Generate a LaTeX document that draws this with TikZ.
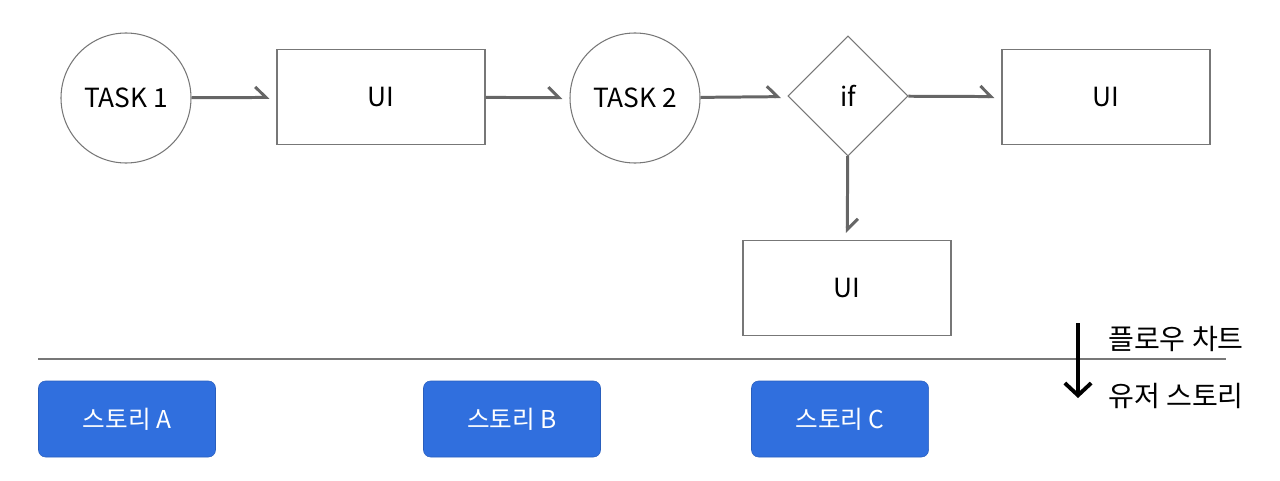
\documentclass[tikz,border=0pt]{standalone}
\usepackage{fontspec}
\setmainfont{Noto Sans CJK KR}
\usetikzlibrary{arrows.meta,shapes.geometric}
\definecolor{linegray}{HTML}{666666}
\definecolor{boxgray}{HTML}{777777}
\definecolor{storyblue}{HTML}{306FDE}
\tikzset{
  task/.style={circle,draw=boxgray,line width=0.6pt,minimum size=130*0.02cm,inner sep=0pt},
  uibox/.style={rectangle,draw=boxgray,line width=0.6pt,minimum width=208*0.02cm,minimum height=95*0.02cm},
  cond/.style={diamond,draw=boxgray,line width=0.6pt,minimum width=120*0.02cm,minimum height=120*0.02cm,inner sep=0pt},
  story/.style={rectangle,rounded corners=4pt,fill=storyblue,draw=storyblue!85!black,line width=0.3pt,
    text=white,minimum width=177*0.02cm,minimum height=76*0.02cm,font=\fontsize{14}{17}\selectfont},
  flow/.style={draw=linegray,line width=1.7pt,-{Straight Barb[harpoon,length=6pt,width=12pt]},shorten >=7*0.02cm},
}
\begin{document}
\begin{tikzpicture}[x=0.02cm,y=-0.02cm,font=\fontsize{15}{18}\selectfont]
  \useasboundingbox (0,0) rectangle (1280,480);

  \node[task] (t1) at (126,98) {TASK 1};
  \node[uibox] (ui1) at (381,97) {UI};
  \node[task] (t2) at (635,98) {TASK 2};
  \node[cond] (if) at (848,96) {if};
  \node[uibox] (ui2) at (1106,97) {UI};
  \node[uibox] (ui3) at (847,288) {UI};

  \draw[flow] (t1) -- (ui1);
  \draw[flow] (ui1) -- (t2);
  \draw[flow] (t2) -- (if);
  \draw[flow] (if) -- (ui2);
  \draw[flow] (if) -- (ui3);

  % divider between the two views
  \coordinate (lineL) at (38,359);
  \coordinate (lineR) at (1226,359);
  \draw[boxgray,line width=0.6pt] (lineL) -- (lineR);

  \coordinate (downA) at (1078,323);
  \coordinate (downB) at (1078,398);
  \draw[line width=2.2pt,-{Straight Barb[length=7pt,width=15pt]}] (downA) -- (downB);
  \node[anchor=west,font=\fontsize{16}{19}\selectfont] (flowlbl) at (1102,339) {플로우 차트};
  \node[anchor=west,font=\fontsize{16}{19}\selectfont] (storylbl) at (1102,396) {유저 스토리};

  \node[story] (sa) at (127,419) {스토리 A};
  \node[story] (sb) at (512,419) {스토리 B};
  \node[story] (sc) at (840,419) {스토리 C};
\end{tikzpicture}
\end{document}
